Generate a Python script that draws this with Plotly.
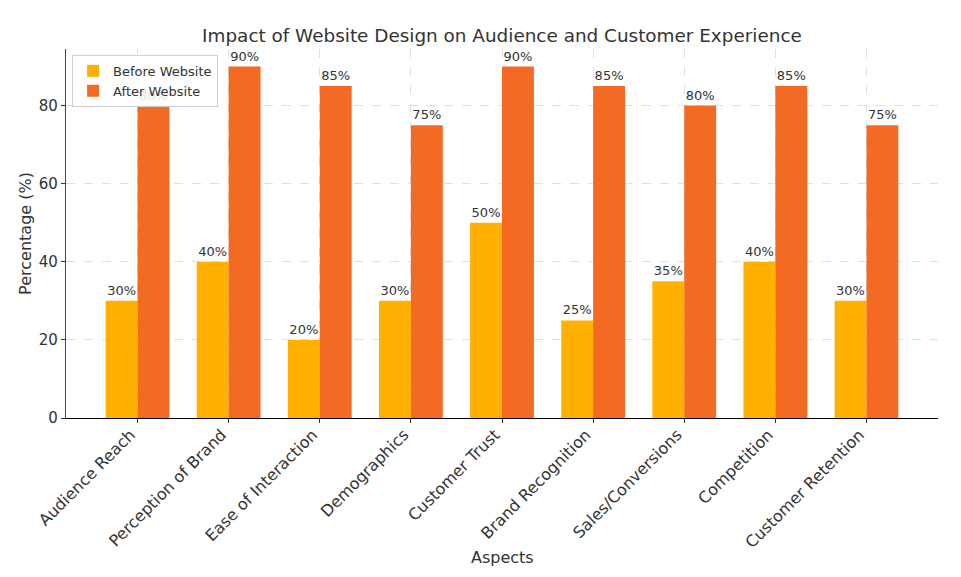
import plotly.graph_objects as go

categories = ["Audience Reach", "Perception of Brand", "Ease of Interaction", "Demographics",
              "Customer Trust", "Brand Recognition", "Sales/Conversions", "Competition",
              "Customer Retention"]
before_vals = [30, 40, 20, 30, 50, 25, 35, 40, 30]
after_vals = [80, 90, 85, 75, 90, 85, 80, 85, 75]
y_ticks = [0, 20, 40, 60, 80]

FONT = "DejaVu Sans"
TXT = "#333333"

fig = go.Figure()
fig.add_trace(go.Bar(
    x=categories, y=before_vals, name="Before Website",
    marker=dict(color="#FFB000", line=dict(width=0)),
    text=[f"{v}%" for v in before_vals], textposition="outside",
    textfont=dict(family=FONT, size=13, color=TXT), cliponaxis=False,
))
fig.add_trace(go.Bar(
    x=categories, y=after_vals, name="After Website",
    marker=dict(color="#F36A23", line=dict(width=0)),
    text=[f"{v}%" for v in after_vals], textposition="outside",
    textfont=dict(family=FONT, size=13, color=TXT), cliponaxis=False,
))

# page body has an 8px margin, so the plot area is offset to land where the reference has it
fig.update_layout(
    width=961, height=577,
    paper_bgcolor="white", plot_bgcolor="white",
    barmode="group", bargap=0.3, bargroupgap=0,
    margin=dict(l=58, r=31, t=41, b=167, autoexpand=False),
    font=dict(family=FONT, size=13, color=TXT),
    title=dict(text="Impact of Website Design on Audience and Customer Experience",
               x=0.514, xanchor="center", y=0.953, yanchor="middle",
               font=dict(family=FONT, size=18.4, color=TXT)),
    legend=dict(x=0.007, y=0.984, xanchor="left", yanchor="top",
                bgcolor="rgba(255,255,255,0.85)", bordercolor="#d0d0d0", borderwidth=1,
                font=dict(family=FONT, size=13, color=TXT), itemwidth=30,
                tracegroupgap=2),
    showlegend=True,
    annotations=[dict(text="Aspects", xref="paper", yref="paper", x=0.5, y=-0.377,
                      xanchor="center", yanchor="middle", showarrow=False,
                      font=dict(family=FONT, size=16, color=TXT))],
)
fig.update_xaxes(
    range=[-0.785, 8.785], tickangle=-45, automargin=False,
    tickfont=dict(family=FONT, size=16, color=TXT),
    ticklabelshift=-7, ticklabelstandoff=-4,
    showgrid=True, gridcolor="#e0e0e0", griddash="dash", gridwidth=1,
    showline=True, linecolor="black", linewidth=1.2,
    ticks="outside", ticklen=4, tickcolor="#333", zeroline=False,
)
fig.update_yaxes(
    range=[0, 94.5], tickvals=y_ticks, automargin=False,
    tickfont=dict(family=FONT, size=15, color=TXT),
    title=dict(text="Percentage (%)", font=dict(family=FONT, size=16, color=TXT), standoff=3),
    showgrid=True, gridcolor="#e0e0e0", griddash="dash", gridwidth=1,
    showline=True, linecolor="#444444", linewidth=1.2,
    ticks="outside", ticklen=4, tickcolor="#333", zeroline=False,
)

fig.write_html("out.html")
